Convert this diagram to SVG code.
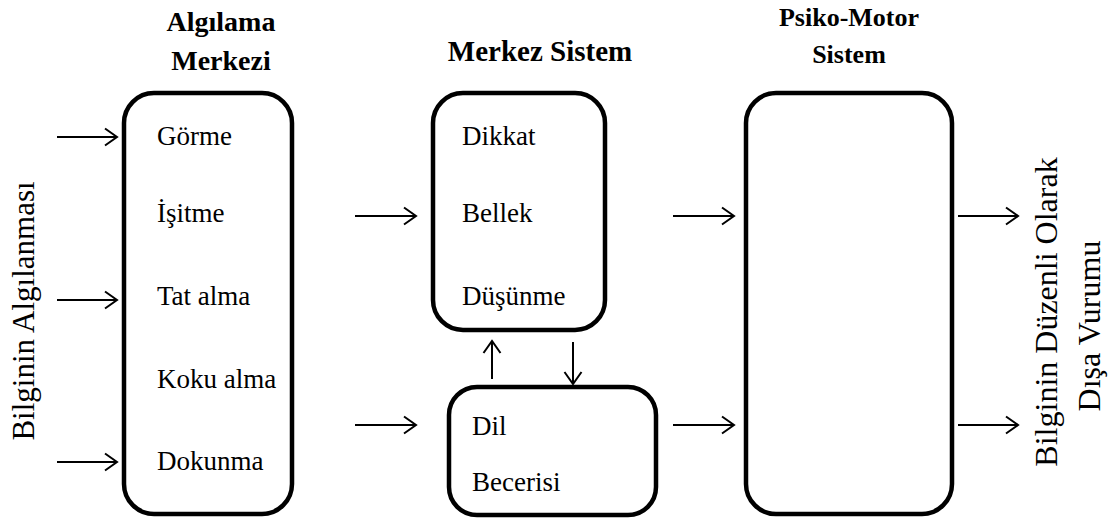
<svg xmlns="http://www.w3.org/2000/svg" width="1117" height="523" viewBox="0 0 1117 523">
  <style>
    .box { fill: #ffffff; stroke: #000000; stroke-width: 4.5; }
    .lbl { font-family: "Liberation Serif", "Times New Roman", serif; font-size: 27px; fill: #000000; }
    .ttl { font-family: "Liberation Serif", "Times New Roman", serif; font-size: 28px; font-weight: bold; fill: #000000; text-anchor: middle; }
    .side { font-family: "Liberation Serif", "Times New Roman", serif; font-size: 31px; fill: #000000; text-anchor: middle; }
    .conn line { stroke: #000000; stroke-width: 2; marker-end: url(#arrow); }
  </style>
  <defs>
    <marker id="arrow" markerUnits="userSpaceOnUse" markerWidth="16" markerHeight="20" refX="13" refY="10" orient="auto">
      <path d="M1,1.5 L13,10 L1,18.5" fill="none" stroke="#000000" stroke-width="2"/>
    </marker>
  </defs>

  <rect width="1117" height="523" fill="#ffffff"/>

  <!-- side captions -->
  <text class="side" transform="translate(34,311) rotate(-90)">Bilginin Algılanması</text>
  <text class="side" style="font-size:32px" transform="translate(1057,312) rotate(-90)">Bilginin Düzenli Olarak</text>
  <text class="side" style="font-size:32px" transform="translate(1100,326) rotate(-90)">Dışa Vurumu</text>

  <!-- column titles -->
  <text class="ttl" x="221" y="31">Algılama</text>
  <text class="ttl" x="221" y="70">Merkezi</text>
  <text class="ttl" style="font-size:29px" x="540" y="61">Merkez Sistem</text>
  <text class="ttl" style="font-size:26px" x="849" y="26">Psiko-Motor</text>
  <text class="ttl" style="font-size:26px" x="849" y="63">Sistem</text>

  <g id="algilama">
    <rect class="box" x="124" y="93" width="168" height="421" rx="30"/>
    <text class="lbl" x="157" y="145">Görme</text>
    <text class="lbl" x="157" y="222">İşitme</text>
    <text class="lbl" x="157" y="305">Tat alma</text>
    <text class="lbl" x="157" y="388">Koku alma</text>
    <text class="lbl" x="157" y="470">Dokunma</text>
  </g>

  <g id="merkez">
    <rect class="box" x="433" y="93" width="172" height="237" rx="30"/>
    <text class="lbl" x="462" y="145">Dikkat</text>
    <text class="lbl" x="462" y="222">Bellek</text>
    <text class="lbl" x="462" y="305">Düşünme</text>
  </g>

  <g id="dil">
    <rect class="box" x="449" y="387" width="207" height="128" rx="28"/>
    <text class="lbl" x="472" y="435">Dil</text>
    <text class="lbl" x="472" y="491">Becerisi</text>
  </g>

  <g id="psikomotor">
    <rect class="box" x="746" y="93" width="206" height="421" rx="30"/>
  </g>

  <g class="conn">
    <line x1="57" y1="137" x2="117" y2="137"/>
    <line x1="57" y1="300" x2="117" y2="300"/>
    <line x1="57" y1="462" x2="117" y2="462"/>
    <line x1="355" y1="216" x2="416" y2="216"/>
    <line x1="355" y1="425" x2="416" y2="425"/>
    <line x1="673" y1="216" x2="734" y2="216"/>
    <line x1="673" y1="425" x2="734" y2="425"/>
    <line x1="958" y1="216" x2="1018" y2="216"/>
    <line x1="958" y1="425" x2="1018" y2="425"/>
    <line x1="492" y1="379" x2="492" y2="341"/>
    <line x1="573" y1="342" x2="573" y2="384"/>
  </g>
</svg>
